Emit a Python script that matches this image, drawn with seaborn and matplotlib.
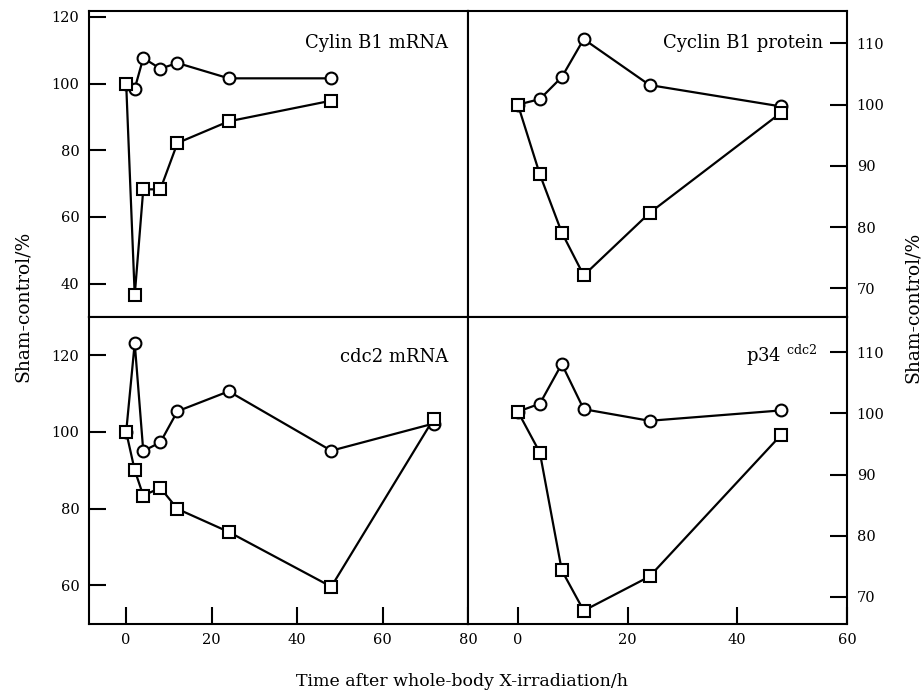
import matplotlib
matplotlib.use("Agg")
import matplotlib.pyplot as plt
import seaborn as sns
import pandas as pd

# ---- data ----
t_b1_mrna = [0, 2, 4, 8, 12, 24, 48]
b1_mrna_circle = [100, 98.5, 107.7, 104.5, 106.2, 101.6, 101.6]
b1_mrna_square = [100, 36.5, 68.3, 68.3, 82.2, 88.7, 94.9]

t_b1_prot = [0, 4, 8, 12, 24, 48]
b1_prot_circle = [100, 100.9, 104.5, 110.7, 103.2, 99.7]
b1_prot_square = [100, 88.6, 79.1, 72.1, 82.3, 98.7]

t_cdc2_mrna = [0, 2, 4, 8, 12, 24, 48, 72]
cdc2_mrna_circle = [100, 123.2, 95.0, 97.3, 105.4, 110.6, 95.1, 102.2]
cdc2_mrna_square = [100, 90.0, 83.4, 85.4, 79.9, 73.9, 59.6, 103.5]

t_p34 = [0, 4, 8, 12, 24, 48]
p34_circle = [100.3, 101.6, 108.1, 100.7, 98.8, 100.5]
p34_square = [100.3, 93.6, 74.3, 67.7, 73.3, 96.5]

titles = ["Cylin B1 mRNA", "Cyclin B1 protein", "cdc2 mRNA", r"p34 $^{\mathrm{cdc2}}$"]
ylabel = "Sham-control/%"
xlabel = "Time after whole-body X-irradiation/h"

sns.set_style("ticks")
plt.rcParams["font.family"] = ["DejaVu Serif"]
plt.rcParams["mathtext.fontset"] = "dejavuserif"
plt.rcParams["text.color"] = "black"
plt.rcParams["xtick.color"] = "black"
plt.rcParams["ytick.color"] = "black"
plt.rcParams["xtick.labelcolor"] = "black"
plt.rcParams["ytick.labelcolor"] = "black"

fig = plt.figure(figsize=(9.24, 6.93), dpi=100)
W, H = 924, 693
def rect(x0, y0, x1, y1):
    return [x0 / W, 1 - y1 / H, (x1 - x0) / W, (y1 - y0) / H]

ax_tl = fig.add_axes(rect(89, 11, 468, 317))
ax_tr = fig.add_axes(rect(468, 11, 847, 317))
ax_bl = fig.add_axes(rect(89, 317, 468, 623.5))
ax_br = fig.add_axes(rect(468, 317, 847, 623.5))

def draw(ax, t, circ, sq):
    df_c = pd.DataFrame({"t": t, "v": circ})
    df_s = pd.DataFrame({"t": t, "v": sq})
    kw = dict(color="black", linewidth=1.6, markerfacecolor="white",
              markeredgecolor="black", markeredgewidth=1.5, markersize=8.5)
    sns.lineplot(data=df_c, x="t", y="v", ax=ax, marker="o", **kw)
    sns.lineplot(data=df_s, x="t", y="v", ax=ax, marker="s", **kw)
    ax.set_xlabel("")
    ax.set_ylabel("")
    for s in ax.spines.values():
        s.set_visible(True)
        s.set_linewidth(1.5)
        s.set_color("black")

draw(ax_tl, t_b1_mrna, b1_mrna_circle, b1_mrna_square)
draw(ax_tr, t_b1_prot, b1_prot_circle, b1_prot_square)
draw(ax_bl, t_cdc2_mrna, cdc2_mrna_circle, cdc2_mrna_square)
draw(ax_br, t_p34, p34_circle, p34_square)

ax_tl.set_xlim(-8.7, 80); ax_bl.set_xlim(-8.7, 80)
ax_tr.set_xlim(-9.1, 60); ax_br.set_xlim(-9.1, 60)
ax_tl.set_ylim(30, 121.8)
ax_tr.set_ylim(65.3, 115.3)
ax_bl.set_ylim(50, 130)
ax_br.set_ylim(65.6, 115.8)

ax_tl.set_yticks([40, 60, 80, 100, 120])
ax_bl.set_yticks([60, 80, 100, 120])
ax_tr.set_yticks([70, 80, 90, 100, 110])
ax_br.set_yticks([70, 80, 90, 100, 110])
ax_bl.set_xticks([0, 20, 40, 60, 80])
ax_br.set_xticks([0, 20, 40, 60])

tick_kw = dict(direction="in", length=12, width=1.5, labelsize=10.5, pad=7, color="black")
for ax in (ax_tl, ax_bl):
    ax.tick_params(axis="y", left=True, right=False, labelleft=True, labelright=False, **tick_kw)
for ax in (ax_tr, ax_br):
    ax.yaxis.tick_right()
    ax.tick_params(axis="y", left=False, right=True, labelleft=False, labelright=True, **tick_kw)
for ax in (ax_tl, ax_tr):
    ax.tick_params(axis="x", bottom=False, labelbottom=False)
for ax in (ax_bl, ax_br):
    ax.tick_params(axis="x", bottom=True, labelbottom=True, **tick_kw)

fs = 13
ax_tl.text(0.947, 0.895, titles[0], transform=ax_tl.transAxes, ha="right", va="center", fontsize=fs)
ax_tr.text(0.937, 0.895, titles[1], transform=ax_tr.transAxes, ha="right", va="center", fontsize=fs)
ax_bl.text(0.947, 0.87, titles[2], transform=ax_bl.transAxes, ha="right", va="center", fontsize=fs)
ax_br.text(0.921, 0.875, titles[3], transform=ax_br.transAxes, ha="right", va="center", fontsize=fs)

fig.text(23 / W, 1 - 306 / H, ylabel, rotation=90, ha="center", va="center", fontsize=13.5)
fig.text(913 / W, 1 - 307 / H, ylabel, rotation=90, ha="center", va="center", fontsize=13.5)
fig.text(462 / W, 1 - 682 / H, xlabel, ha="center", va="center", fontsize=12.5)

fig.savefig("out.png", dpi=100)
